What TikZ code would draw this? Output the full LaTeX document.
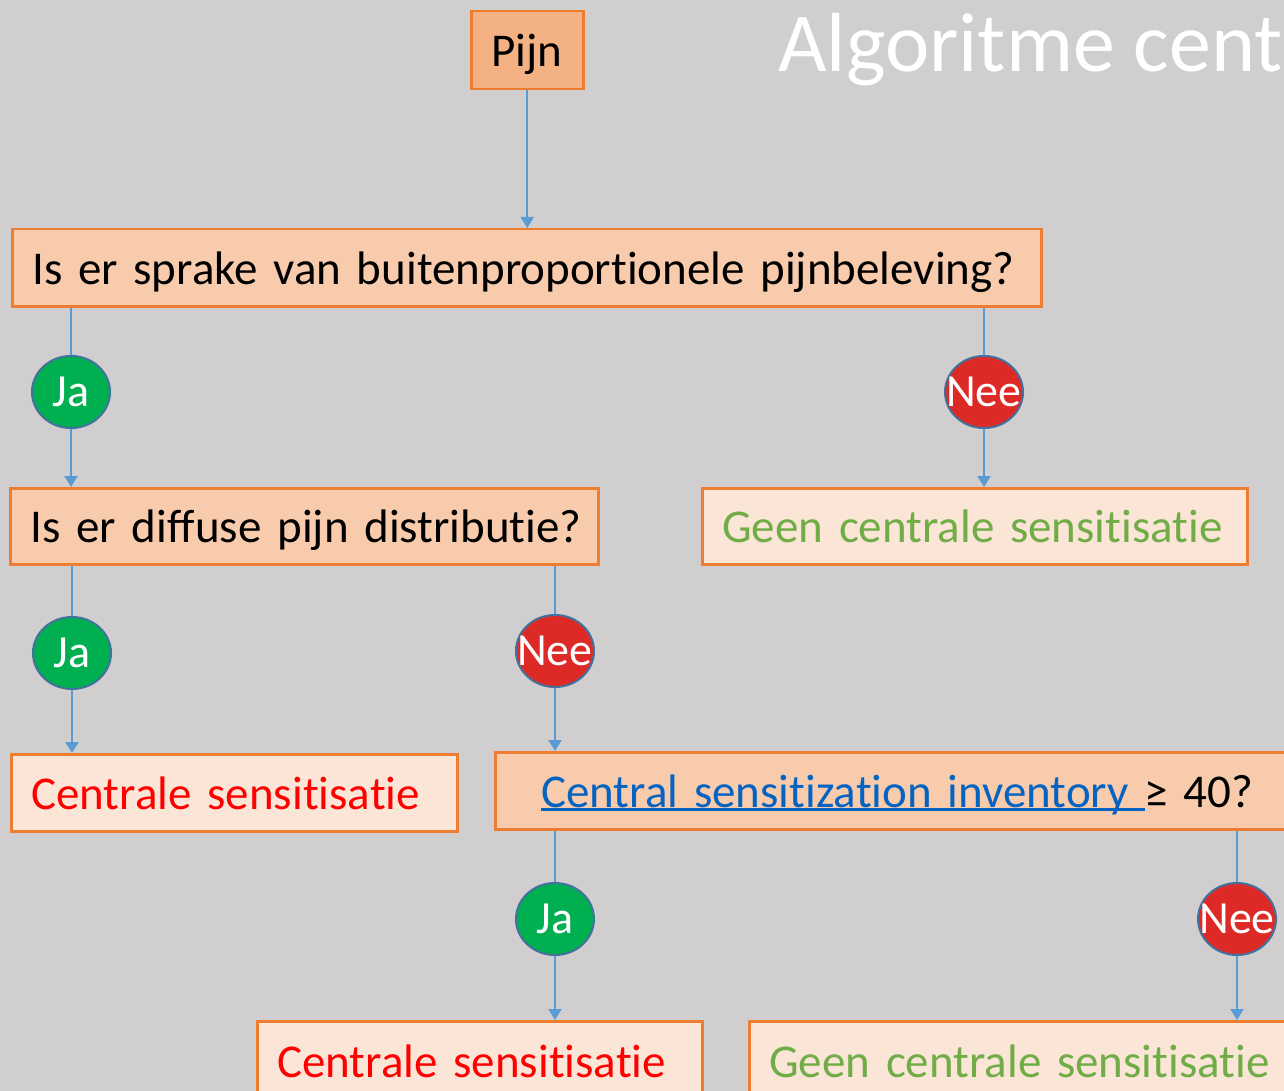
\documentclass[tikz,border=0pt]{standalone}
\usepackage{fontspec}
\setmainfont{Carlito}[Ligatures={NoCommon}]
\usetikzlibrary{arrows.meta,shapes.geometric}
\definecolor{bg}{HTML}{D0CECE}
\definecolor{boxline}{HTML}{ED7D31}
\definecolor{darkfill}{HTML}{F4B183}
\definecolor{midfill}{HTML}{F8CBAD}
\definecolor{lightfill}{HTML}{FBE5D6}
\definecolor{jagreen}{HTML}{00B050}
\definecolor{neered}{HTML}{DE2A26}
\definecolor{circline}{HTML}{41719C}
\definecolor{conncol}{HTML}{5B9BD5}
\definecolor{txtgreen}{HTML}{70AD47}
\definecolor{txtred}{HTML}{FF0000}
\definecolor{linkblue}{HTML}{0563C1}
\newcommand\myuline[1]{\setbox0\hbox{#1}\rlap{\rule[-4pt]{\wd0}{3pt}}\box0}
\begin{document}
\begin{tikzpicture}[x=1pt,y=-1pt,
  box/.style={draw=boxline, line width=2.5pt, anchor=north west, inner xsep=20pt, inner ysep=0pt,
    align=left, text height=36pt, text depth=3pt, font=\fontsize{47}{56}\selectfont},
  circ/.style={ellipse, draw=circline, line width=2pt, minimum width=78pt, minimum height=72pt, inner sep=0pt},
  lbl/.style={text=white, inner sep=0pt, font=\fontsize{46}{55}\selectfont},
  conn/.style={draw=conncol, line width=2pt},
  arr/.style={conn, -{Triangle[width=13pt,length=11pt]}}
]
\clip (0,0) rectangle (1284,1091);
\fill[bg] (0,0) rectangle (1284,1091);

\node[text=white, anchor=base west, inner sep=0pt, font=\fontsize{84}{96}\selectfont] (title) at (778,72) {Algoritme centrale sensitisatie};

\node[box, fill=darkfill, minimum width=112pt, minimum height=78pt, text width=72pt] (pijn) at (470,10) {\mbox{Pijn}};

\node[box, fill=midfill, minimum width=1029pt, minimum height=77pt, text width=989pt] (q1) at (11,228) {\mbox{Is er sprake van buitenproportionele pijnbeleving?}};

\node[circ, fill=jagreen, label={[lbl]center:Ja}] (ja1) at (71,392) {};
\node[circ, fill=neered, label={[lbl]center:Nee}] (nee1) at (984,392) {};

\node[box, fill=midfill, minimum width=588pt, minimum height=76pt, text width=548pt] (q2) at (9,487) {\mbox{Is er diffuse pijn distributie?}};
\node[box, fill=lightfill, text=txtgreen, minimum width=545pt, minimum height=76pt, text width=505pt] (geen1) at (701,487) {\mbox{Geen centrale sensitisatie}};

\node[circ, fill=jagreen, label={[lbl]center:Ja}] (ja2) at (72,653) {};
\node[circ, fill=neered, label={[lbl]center:Nee}] (nee2) at (555,651) {};

\node[box, fill=lightfill, text=txtred, minimum width=446pt, minimum height=77pt, text width=406pt] (cent1) at (10,753) {\mbox{Centrale sensitisatie}};
\node[box, fill=midfill, minimum width=900pt, minimum height=77pt, inner xsep=46pt, text width=808pt] (csi) at (494,751)
  {\mbox{\textcolor{linkblue}{\myuline{Central sensitization inventory\ }}≥ 40?}};

\node[circ, fill=jagreen, label={[lbl]center:Ja}] (ja3) at (555,919) {};
\node[circ, fill=neered, label={[lbl]center:Nee}] (nee3) at (1237,919) {};

\node[box, fill=lightfill, text=txtred, minimum width=445pt, minimum height=80pt, text width=405pt] (cent2) at (256,1020) {\mbox{Centrale sensitisatie}};
\node[box, fill=lightfill, text=txtgreen, minimum width=600pt, minimum height=80pt, text width=560pt] (geen2) at (748,1020) {\mbox{Geen centrale sensitisatie}};

\draw[arr] (pijn) -- (pijn |- q1.north);

\draw[conn] (q1.south -| ja1) -- (ja1);
\draw[arr] (ja1) -- (ja1 |- q2.north);
\draw[conn] (q1.south -| nee1) -- (nee1);
\draw[arr] (nee1) -- (nee1 |- geen1.north);

\draw[conn] (q2.south -| ja2) -- (ja2);
\draw[arr] (ja2) -- (ja2 |- cent1.north);
\draw[conn] (q2.south -| nee2) -- (nee2);
\draw[arr] (nee2) -- (nee2 |- csi.north);

\draw[conn] (csi.south -| ja3) -- (ja3);
\draw[arr] (ja3) -- (ja3 |- cent2.north);
\draw[conn] (csi.south -| nee3) -- (nee3);
\draw[arr] (nee3) -- (nee3 |- geen2.north);
\end{tikzpicture}
\end{document}
